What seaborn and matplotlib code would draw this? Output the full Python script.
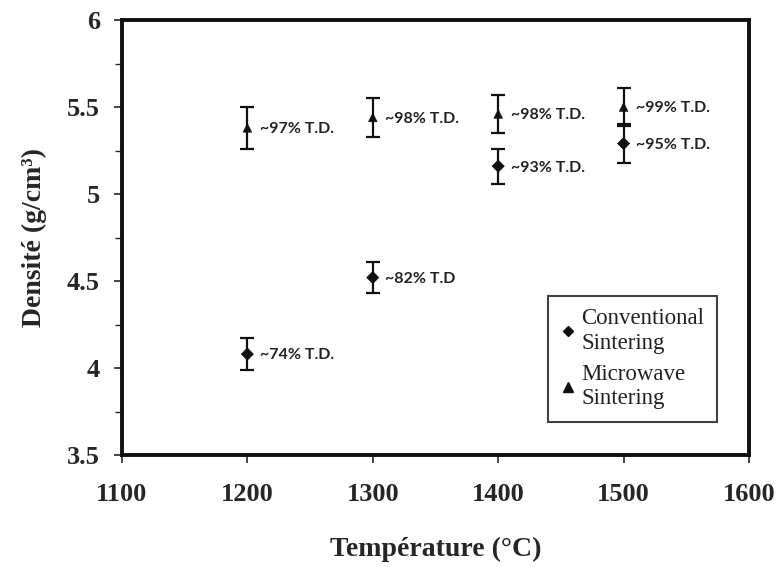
import pandas as pd
import matplotlib
matplotlib.use("Agg")
import matplotlib.pyplot as plt
from matplotlib.ticker import MultipleLocator
from matplotlib.lines import Line2D
import seaborn as sns

# data
temps = [1200, 1300, 1400, 1500]
conv_density = [4.08, 4.52, 5.16, 5.29]
conv_err = [0.09, 0.09, 0.10, 0.11]
conv_labels = ["~74% T.D.", "~82% T.D", "~93% T.D.", "~95% T.D."]
micro_density = [5.38, 5.44, 5.46, 5.50]
micro_err = [0.12, 0.11, 0.11, 0.11]
micro_labels = ["~97% T.D.", "~98% T.D.", "~98% T.D.", "~99% T.D."]

df = pd.DataFrame({
    "Temperature": temps * 2,
    "Density": conv_density + micro_density,
    "Err": conv_err + micro_err,
    "Label": conv_labels + micro_labels,
    "Method": ["Conventional"] * 4 + ["Microwave"] * 4,
})

sns.set_style("white")
plt.rcParams["font.family"] = ["Liberation Serif", "DejaVu Serif"]

fig = plt.figure(figsize=(7.79, 5.67), dpi=100)
ax = fig.add_axes([0.1566, 0.1975, 0.8049, 0.7672])

for method in ["Conventional", "Microwave"]:
    sub = df[df["Method"] == method]
    ax.errorbar(sub["Temperature"], sub["Density"], yerr=sub["Err"], fmt="none",
                ecolor="#111111", elinewidth=1.6, capsize=5, capthick=1.6, zorder=2)

sns.scatterplot(data=df, x="Temperature", y="Density", style="Method",
                markers={"Conventional": "D", "Microwave": "^"},
                color="#111111", s=38, edgecolor="#111111", legend=False, ax=ax, zorder=3)

for _, r in df.iterrows():
    ax.annotate(r["Label"], (r["Temperature"], r["Density"]), xytext=(9, -1),
                textcoords="offset points", va="center", ha="left",
                fontsize=11.5, fontweight="bold", family=["Lato", "DejaVu Sans"], color="#222222")

ax.set_xlim(1100, 1600)
ax.set_ylim(3.5, 6)
ax.xaxis.set_major_locator(MultipleLocator(100))
ax.yaxis.set_minor_locator(MultipleLocator(0.25))
ax.set_yticks([3.5, 4, 4.5, 5, 5.5, 6])
ax.set_yticklabels(["3.5", "4", "4.5", "5", "5.5", "6"])
ax.tick_params(axis="both", which="major", direction="out", length=6, width=1.2,
               labelsize=19, left=True, bottom=True)
ax.tick_params(axis="x", which="major", pad=14)
ax.tick_params(axis="y", which="major", pad=10)
ax.tick_params(axis="y", which="minor", direction="out", length=5, width=1.0, left=True)
for lab in ax.get_xticklabels() + ax.get_yticklabels():
    lab.set_fontweight("bold")

for sp in ax.spines.values():
    sp.set_linewidth(2.8)
    sp.set_color("#111111")

ax.set_xlabel("Température (°C)", fontsize=20, fontweight="bold", labelpad=22)
ax.set_ylabel("Densité (g/cm³)", fontsize=20, fontweight="bold", labelpad=14)

handles = [
    Line2D([], [], marker="D", color="#111111", linestyle="none", markersize=5),
    Line2D([], [], marker="^", color="#111111", linestyle="none", markersize=7),
]
leg = ax.legend(handles, ["Conventional\nSintering", "Microwave\nSintering"],
                loc="lower right", bbox_to_anchor=(0.967, 0.05), frameon=True,
                fancybox=False, edgecolor="#111111", fontsize=16.5, handlelength=0.6,
                handletextpad=0.3, borderpad=0.55, labelspacing=0.45)
leg.get_frame().set_linewidth(1.5)
for t in leg.get_texts():
    t.set_color("#222222")
    t.set_linespacing(1.2)

fig.savefig("out.png", dpi=100)
